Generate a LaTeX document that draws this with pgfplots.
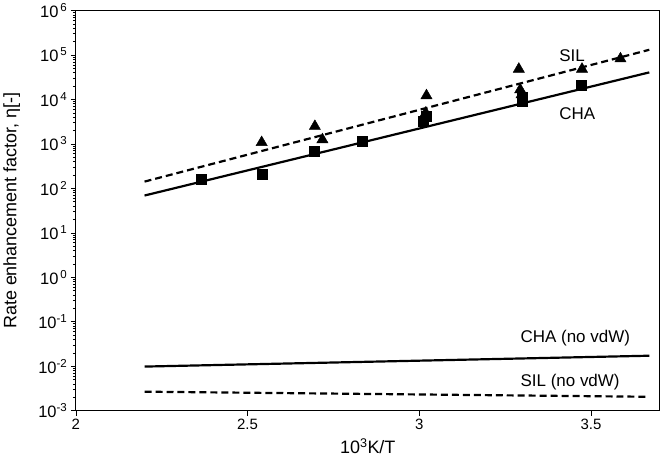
\documentclass[border=0pt]{standalone}
\usepackage{pgfplots}
\pgfplotsset{compat=1.18}
\usepackage{fontspec}
\setmainfont{Liberation Sans}
\begin{document}
\begin{tikzpicture}
\begin{axis}[
  scale only axis,
  width=585bp, height=401bp,
  xmin=2, xmax=3.7,
  ymode=log, ymin=1e-3, ymax=1e6,
  xtick={2,2.5,3,3.5},
  xticklabels={2,2.5,3,3.5},
  ytick={1e-3,1e-2,1e-1,1,1e1,1e2,1e3,1e4,1e5,1e6},
  yticklabels={10\textsuperscript{-3},10\textsuperscript{-2},10\textsuperscript{-1},10\textsuperscript{\,0},10\textsuperscript{\,1},10\textsuperscript{\,2},10\textsuperscript{\,3},10\textsuperscript{\,4},10\textsuperscript{\,5},10\textsuperscript{\,6}},
  minor ytick={2e-3,3e-3,4e-3,5e-3,6e-3,7e-3,8e-3,9e-3,2e-2,3e-2,4e-2,5e-2,6e-2,7e-2,8e-2,9e-2,2e-1,3e-1,4e-1,5e-1,6e-1,7e-1,8e-1,9e-1,2,3,4,5,6,7,8,9,20,30,40,50,60,70,80,90,200,300,400,500,600,700,800,900,2e3,3e3,4e3,5e3,6e3,7e3,8e3,9e3,2e4,3e4,4e4,5e4,6e4,7e4,8e4,9e4,2e5,3e5,4e5,5e5,6e5,7e5,8e5,9e5},
  tick align=outside,
  xtick pos=bottom, ytick pos=left,
  major tick length=5bp, minor tick length=3bp,
  every tick/.style={black, line width=0.6bp},
  axis line style={line width=0.8bp},
  xticklabel style={font=\fontsize{15bp}{17bp}\selectfont},
  yticklabel style={font=\fontsize{16.5bp}{18bp}\selectfont},
  xlabel={10\textsuperscript{3}K/T},
  ylabel={Rate enhancement factor, η[-]},
  every axis y label/.style={at={(axis description cs:-0.11,0.5)}, rotate=90, anchor=center, font=\fontsize{18bp}{20bp}\selectfont},
  every axis x label/.style={at={(axis description cs:0.5,-0.088)}, anchor=center, font=\fontsize{18bp}{20bp}\selectfont},
  clip=false,
]
% CHA fit
\addplot[black, line width=2.2bp] coordinates {(2.2,69) (3.67,40600)};
% SIL fit
\addplot[black, line width=2.2bp, dash pattern=on 7bp off 4bp] coordinates {(2.2,142) (3.67,131000)};
% CHA no vdW
\addplot[black, line width=2.2bp] coordinates {(2.2,0.0098) (3.67,0.0172)};
% SIL no vdW
\addplot[black, line width=2.2bp, dash pattern=on 7bp off 4bp] coordinates {(2.2,0.00267) (3.67,0.00205)};
% CHA data (squares)
\addplot[only marks, mark=square*, mark size=5bp, black] coordinates {
(2.364,163) (2.544,204) (2.694,680) (2.834,1150) (3.011,3230) (3.019,4180) (3.300,9080) (3.300,11000) (3.472,20400)};
% SIL data (triangles)
\addplot[only marks, mark=triangle*, mark size=6.5bp, black] coordinates {
(2.541,1080) (2.696,2490) (2.718,1250) (3.021,12200) (3.019,4960) (3.290,48200) (3.294,16600) (3.298,12800) (3.474,48200) (3.586,82400)};
\node[anchor=west, font=\fontsize{17bp}{19bp}\selectfont] at (axis cs:3.398,9.8e4) {SIL};
\node[anchor=west, font=\fontsize{17bp}{19bp}\selectfont] at (axis cs:3.398,4890) {CHA};
\node[anchor=west, font=\fontsize{17bp}{19bp}\selectfont] at (axis cs:3.285,0.0436) {CHA (no vdW)};
\node[anchor=west, font=\fontsize{17bp}{19bp}\selectfont] at (axis cs:3.285,0.00449) {SIL (no vdW)};
\end{axis}
\end{tikzpicture}
\end{document}
